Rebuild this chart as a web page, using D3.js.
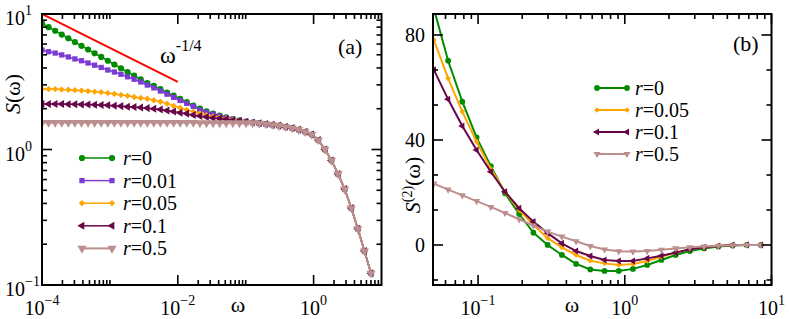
<!DOCTYPE html>
<html>
<head>
<meta charset="utf-8">
<script src="https://cdn.jsdelivr.net/npm/d3@7"></script>
<style>
body{margin:0;background:#fff;}
svg{display:block;}
</style>
</head>
<body>
<svg id="chart" width="789" height="319" font-family="'Liberation Serif', 'Times New Roman', serif"></svg>
<script>
// ---- panel (a): S(omega), log-log ----
var omegaA = [1.000e-4,1.250e-4,1.563e-4,1.953e-4,2.441e-4,3.052e-4,3.815e-4,4.768e-4,5.960e-4,7.451e-4,
	9.313e-4,1.164e-3,1.455e-3,1.819e-3,2.274e-3,2.842e-3,3.553e-3,4.441e-3,5.551e-3,6.939e-3,
	8.674e-3,1.084e-2,1.355e-2,1.694e-2,2.118e-2,2.647e-2,3.309e-2,4.136e-2,5.170e-2,6.463e-2,
	8.078e-2,0.1010,0.1262,0.1578,0.1972,0.2465,0.3081,0.3852,0.4815,0.6018,
	0.7523,0.9404,1.175,1.469,1.836,2.295,2.869,3.587,4.483,5.604,7.005];

// all curves coincide above omega ~ 0.15
var tailA = [1.56,1.54,1.52,1.50,1.47,1.44,1.40,1.35,1.29,1.175,1.0,0.83,0.66,0.51,0.37,0.26,0.178,0.122];

var sR0 = [8.53,8.00,7.52,7.05,6.62,6.21,5.82,5.47,5.13,4.82,4.52,4.24,3.98,3.73,3.51,3.29,3.09,
	2.95,2.79,2.63,2.50,2.37,2.24,2.11,2.00,1.91,1.84,1.78,1.73,1.68,1.64,1.61,1.58].concat(tailA);
var sR001 = [5.42,5.27,5.15,4.99,4.82,4.66,4.52,4.35,4.19,4.03,3.86,3.73,3.59,3.44,3.30,3.15,2.99,
	2.85,2.70,2.56,2.43,2.30,2.19,2.08,1.96,1.88,1.82,1.76,1.71,1.67,1.63,1.60,1.58].concat(tailA);
var sR005 = [2.80,2.79,2.79,2.77,2.76,2.74,2.72,2.70,2.67,2.65,2.61,2.57,2.53,2.49,2.44,2.40,2.37,
	2.31,2.25,2.18,2.10,2.03,1.96,1.90,1.85,1.79,1.75,1.72,1.69,1.66,1.63,1.60,1.58].concat(tailA);
var sR01 = [2.17,2.17,2.17,2.17,2.16,2.16,2.15,2.15,2.14,2.13,2.12,2.10,2.09,2.07,2.06,2.04,2.02,
	2.00,1.97,1.94,1.91,1.87,1.84,1.80,1.77,1.74,1.71,1.69,1.67,1.64,1.63,1.60,1.58].concat(tailA);
var sR05 = [1.58,1.58,1.58,1.58,1.58,1.58,1.58,1.58,1.58,1.58,1.58,1.58,1.58,1.58,1.58,1.58,1.58,
	1.58,1.58,1.58,1.58,1.58,1.58,1.58,1.57,1.57,1.57,1.57,1.57,1.57,1.57,1.57,1.57].concat(tailA);

var powerLaw = [[1e-4,10],[1e-2,3.16]];

// ---- panel (b): S2(omega), log-linear ----
var omegaB = [0.05,0.0625,0.0781,0.0977,0.1221,0.1526,0.1907,0.2384,0.2980,0.3725,0.4657,0.5821,
	0.7276,0.9095,1.137,1.421,1.776,2.220,2.776,3.469,4.337,5.421,6.776,8.470];
var s2R0   = [90,70.2,54.6,41.0,30.0,19.7,11.8,4.7,0.0,-3.8,-7.2,-9.3,-9.9,-9.9,-9.1,-7.6,-5.7,-3.8,-2.3,-1.3,-0.6,-0.2,0,0];
var s2R005 = [78.1,63.5,50.8,39.4,29.0,20.2,13.3,7.6,2.6,-0.9,-3.8,-6.0,-7.0,-7.6,-7.2,-6.1,-4.5,-2.9,-1.6,-0.9,-0.3,0,0,0];
var s2R01  = [66.7,55.5,45.3,36.2,27.9,20.3,14.0,8.9,4.5,0.6,-2.3,-4.2,-5.7,-6.1,-6.1,-5.1,-4.1,-2.9,-1.6,-0.9,-0.4,0,0,0];
var s2R05  = [23.4,21.1,18.9,16.7,14.5,12.2,9.8,7.4,5.1,3.2,1.4,-0.4,-1.7,-2.4,-2.5,-2.3,-1.8,-1.3,-0.9,-0.6,-0.3,-0.1,0,0];

// ticks
var xMajorA = [1e-4,1e-2,1], xLabA = ["-4","-2","0"];
var xMinorA = [2e-4,3e-4,4e-4,5e-4,6e-4,7e-4,8e-4,9e-4,1e-3,0.02,0.03,0.04,0.05,0.06,0.07,0.08,0.09,0.1,2,3,4,5,6,7,8,9];
var yMajorA = [0.1,1,10], yLabA = ["-1","0","1"];
var yMinorA = [0.2,0.3,0.4,0.5,0.6,0.7,0.8,0.9,2,3,4,5,6,7,8,9];
var xMajorB = [0.1,1,10], xLabB = ["-1","0","1"];
var xMinorB = [0.06,0.07,0.08,0.09,0.2,0.3,0.4,0.5,0.6,0.7,0.8,0.9,2,3,4,5,6,7,8,9];
var yMajorB = [0,40,80];
var yMinorB = [-13.333,13.333,26.667,53.333,66.667];

var legendA = ["0","0.01","0.05","0.1","0.5"];
var legendB = ["0","0.05","0.1","0.5"];

var C_GREEN = "#008b00", C_VIOLET = "#7b3bd4", C_ORANGE = "#ffa500", C_MAROON = "#67074a", C_ROSE = "#bc8f8f";

var svg = d3.select("#chart");

var xA = d3.scaleLog().domain([1e-4,10]).range([42,381.5]);
var yA = d3.scaleLog().domain([0.1,10]).range([285,14]);
var xB = d3.scaleLog().domain([0.0493,10]).range([433,771.5]);
var yB = d3.scaleLinear().domain([-15.24,88]).range([285,14]);

function symPath(kind, size){
	var t = d3.symbolCircle;
	if(kind=="square" || kind=="diamond") t = d3.symbolSquare;
	if(kind=="left" || kind=="down") t = d3.symbolTriangle;
	return d3.symbol().type(t).size(size)();
}
function symRot(kind){
	if(kind=="diamond") return 45;
	if(kind=="left") return -90;
	if(kind=="down") return 180;
	return 0;
}

function drawSeries(g, x, y, xs, ys, st){
	var pts = xs.map(function(v,i){ return [v, ys[i]]; });
	var line = d3.line().x(function(d){ return x(d[0]); }).y(function(d){ return y(d[1]); });
	g.append("path").attr("d", line(pts))
		.attr("fill","none").attr("stroke", st.color).attr("stroke-width", st.lw);
	g.selectAll(null).data(pts).enter().append("path")
		.attr("d", symPath(st.sym, st.size))
		.attr("transform", function(d){ return "translate(" + x(d[0]) + "," + y(d[1]) + ") rotate(" + symRot(st.sym) + ")"; })
		.attr("fill", st.color);
}

function drawFrame(x, y, xMaj, xMin, yMaj, yMin){
	var r = x.range(), b = y.range()[0], t = y.range()[1];
	var g = svg.append("g").attr("stroke","#000").attr("stroke-width",1.6);
	function tx(list, len){
		list.forEach(function(v){
			var px = x(v);
			g.append("line").attr("x1",px).attr("x2",px).attr("y1",b).attr("y2",b-len);
			g.append("line").attr("x1",px).attr("x2",px).attr("y1",t).attr("y2",t+len);
		});
	}
	function ty(list, len){
		list.forEach(function(v){
			var py = y(v);
			g.append("line").attr("x1",r[0]).attr("x2",r[0]+len).attr("y1",py).attr("y2",py);
			g.append("line").attr("x1",r[1]).attr("x2",r[1]-len).attr("y1",py).attr("y2",py);
		});
	}
	tx(xMaj,10); tx(xMin,5); ty(yMaj,10); ty(yMin,5);
	g.append("rect").attr("x",r[0]).attr("y",t).attr("width",r[1]-r[0]).attr("height",b-t)
		.attr("fill","none").attr("stroke-width",2);
}

// power-of-ten label: "10" with superscript
function powLabel(px, py, exp, anchor){
	var t = svg.append("text").attr("x",px).attr("y",py).attr("font-size",20).attr("text-anchor",anchor);
	t.append("tspan").text("10");
	t.append("tspan").attr("dy",-10).attr("font-size",14).text(exp.replace("-","\u2212"));
}

function drawLegend(items, styles, x0, x1, tx, y0, dy){
	items.forEach(function(lab,i){
		var st = styles[i], yy = y0 + i*dy;
		svg.append("line").attr("x1",x0).attr("x2",x1).attr("y1",yy).attr("y2",yy)
			.attr("stroke",st.color).attr("stroke-width",st.lw);
		[x0,x1].forEach(function(px){
			svg.append("path").attr("d", symPath(st.sym, st.size))
				.attr("transform","translate(" + px + "," + yy + ") rotate(" + symRot(st.sym) + ")")
				.attr("fill", st.color);
		});
		var t = svg.append("text").attr("x",tx).attr("y",yy+7).attr("font-size",20);
		t.append("tspan").attr("font-style","italic").text("r");
		t.append("tspan").text("=" + lab);
	});
}

var defs = svg.append("defs");
defs.append("clipPath").attr("id","clipA").append("rect").attr("x",42).attr("y",14).attr("width",340).attr("height",271);
defs.append("clipPath").attr("id","clipB").append("rect").attr("x",433).attr("y",14).attr("width",339).attr("height",271);

// panel (a)
var stA = [
	{color:C_GREEN, sym:"circle", size:30, lw:1.5},
	{color:C_VIOLET, sym:"square", size:28, lw:1.5},
	{color:C_ORANGE, sym:"diamond", size:20, lw:1.5},
	{color:C_MAROON, sym:"left", size:28, lw:1.5},
	{color:C_ROSE, sym:"down", size:36, lw:2}
];
var gA = svg.append("g").attr("clip-path","url(#clipA)");
[sR0, sR001, sR005, sR01, sR05].forEach(function(s,i){ drawSeries(gA, xA, yA, omegaA, s, stA[i]); });
gA.append("path").attr("d", d3.line().x(function(d){ return xA(d[0]); }).y(function(d){ return yA(d[1]); })(powerLaw))
	.attr("stroke","#ff0000").attr("stroke-width",2).attr("fill","none");
drawFrame(xA, yA, xMajorA, xMinorA, yMajorA, yMinorA);

xMajorA.forEach(function(v,i){ powLabel(xA(v), 315, xLabA[i], "middle"); });
yMajorA.forEach(function(v,i){ powLabel(5, yA(v)+11, yLabA[i], "start"); });

var pl = svg.append("text").attr("x",160).attr("y",63).attr("font-size",24);
pl.append("tspan").text("\u03c9");
pl.append("tspan").attr("dy",-12).attr("font-size",16).text("-1/4");

svg.append("text").attr("x",338).attr("y",54).attr("font-size",22).text("(a)");
drawLegend(legendA, stA, 82, 112, 123, 158, 22.6);

var ya = svg.append("text").attr("transform","translate(20,94) rotate(-90)")
	.attr("text-anchor","middle").attr("font-size",22);
ya.append("tspan").attr("font-style","italic").text("S");
ya.append("tspan").text("(\u03c9)");
svg.append("text").attr("x",238).attr("y",312).attr("text-anchor","middle").attr("font-size",22).text("\u03c9");

// panel (b)
var stB = [
	{color:C_GREEN, sym:"circle", size:26, lw:2},
	{color:C_ORANGE, sym:"diamond", size:16, lw:2},
	{color:C_MAROON, sym:"left", size:22, lw:2},
	{color:C_ROSE, sym:"down", size:22, lw:2}
];
var gB = svg.append("g").attr("clip-path","url(#clipB)");
[s2R0, s2R005, s2R01, s2R05].forEach(function(s,i){ drawSeries(gB, xB, yB, omegaB, s, stB[i]); });
drawFrame(xB, yB, xMajorB, xMinorB, yMajorB, yMinorB);

xMajorB.forEach(function(v,i){ powLabel(xB(v), 315, xLabB[i], "middle"); });
yMajorB.forEach(function(v){
	svg.append("text").attr("x",425).attr("y",yB(v)+7).attr("text-anchor","end").attr("font-size",20).text(v);
});

svg.append("text").attr("x",733).attr("y",51).attr("font-size",22).text("(b)");
drawLegend(legendB, stB, 597, 627, 635, 88, 22);

var yb = svg.append("text").attr("transform","translate(420,185) rotate(-90)")
	.attr("text-anchor","middle").attr("font-size",22);
yb.append("tspan").attr("font-style","italic").text("S");
yb.append("tspan").attr("dy",-8).attr("font-size",14).text("(2)");
yb.append("tspan").attr("dy",8).text("(\u03c9)");
svg.append("text").attr("x",572).attr("y",312).attr("text-anchor","middle").attr("font-size",22).text("\u03c9");
</script>
</body>
</html>
